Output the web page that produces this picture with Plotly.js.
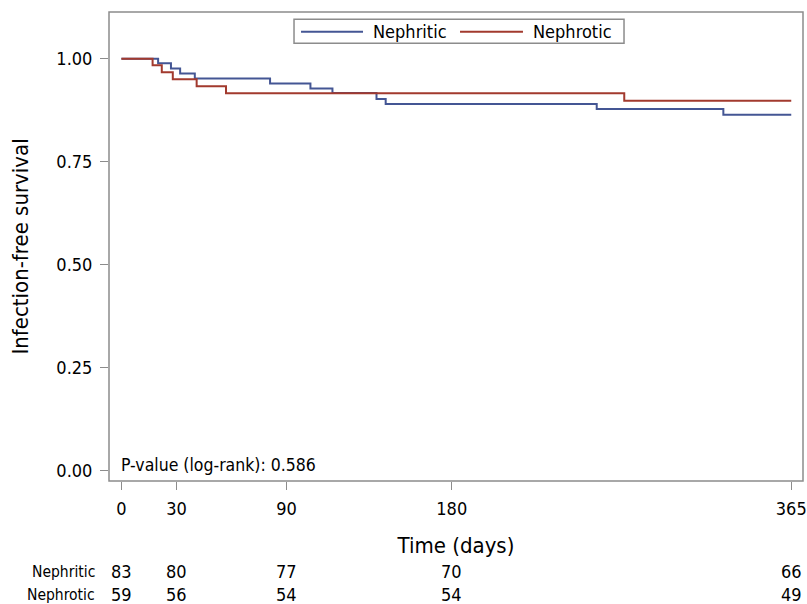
<!DOCTYPE html>
<html>
<head>
<meta charset="utf-8">
<script src="https://cdn.plot.ly/plotly-3.0.1.min.js"></script>
<style>html,body{margin:0;padding:0;background:#fff;}#chart{width:807px;height:604px;}</style>
</head>
<body>
<div id="chart"></div>
<script>
// Kaplan-Meier step data
const nephriticDays = [0, 20, 27, 32, 40, 81, 103, 115, 139, 144, 259, 328, 365];
const nephriticSurv = [1.000, 0.989, 0.976, 0.964, 0.952, 0.940, 0.928, 0.917, 0.902, 0.890, 0.878, 0.864, 0.864];
const nephroticDays = [0, 17, 22, 28, 41, 57, 274, 365];
const nephroticSurv = [1.000, 0.984, 0.967, 0.950, 0.933, 0.916, 0.898, 0.898];

// Number at risk table
const riskTimes = [0, 30, 90, 180, 365];
const nephriticAtRisk = [83, 80, 77, 70, 66];
const nephroticAtRisk = [59, 56, 54, 54, 49];
const groupNames = ["Nephritic", "Nephrotic"];

const yTicks = [0, 0.25, 0.5, 0.75, 1];
const pValueText = "P-value (log-rank): 0.586";

const FONT = "'DejaVu Sans Condensed', 'DejaVu Sans', sans-serif";
const GRAY = "#8c8c8c";
const BLUE = "#445694";
const RED = "#a23a2e";
const colors = [BLUE, RED];

const traces = [
  {x: nephriticDays, y: nephriticSurv, name: groupNames[0], type: "scatter", mode: "lines",
   line: {shape: "hv", color: BLUE, width: 2}},
  {x: nephroticDays, y: nephroticSurv, name: groupNames[1], type: "scatter", mode: "lines",
   line: {shape: "hv", color: RED, width: 2}}
];

const annotations = [
  {text: pValueText, xref: "paper", yref: "paper", x: 0.014, y: 0.009, xanchor: "left", yanchor: "bottom",
   showarrow: false, font: {family: FONT, size: 17.5, color: "#000"}}
];
const rows = [nephriticAtRisk, nephroticAtRisk];
const rowY = [-0.193, -0.243];
rows.forEach((vals, r) => {
  annotations.push({text: groupNames[r], xref: "paper", yref: "paper", x: -0.018, y: rowY[r],
    xanchor: "right", yanchor: "middle", showarrow: false, font: {family: FONT, size: 15.5, color: "#000"}});
  vals.forEach((v, i) => {
    annotations.push({text: String(v), xref: "x", yref: "paper", x: riskTimes[i], y: rowY[r],
      xanchor: "center", yanchor: "middle", showarrow: false, font: {family: FONT, size: 18, color: "#000"}});
  });
});

// Manual legend (box, line samples, labels)
const legendSample = [[0.2767, 0.366], [0.5058, 0.5965]];
const legendTextX = [0.377, 0.6075];
const legendY = 0.958;
const shapes = [
  {type: "rect", xref: "paper", yref: "paper", x0: 0, x1: 1, y0: 0, y1: 1,
   line: {color: GRAY, width: 1.5}, layer: "above"},
  {type: "rect", xref: "paper", yref: "paper", x0: 0.2666, x1: 0.7421, y0: 0.9333, y1: 0.9844,
   line: {color: GRAY, width: 1.5}, fillcolor: "#fff", layer: "above"}
];
groupNames.forEach((g, i) => {
  shapes.push({type: "line", xref: "paper", yref: "paper", x0: legendSample[i][0], x1: legendSample[i][1],
    y0: legendY, y1: legendY, line: {color: colors[i], width: 2}, layer: "above"});
  annotations.push({text: g, xref: "paper", yref: "paper", x: legendTextX[i], y: legendY,
    xanchor: "left", yanchor: "middle", showarrow: false, font: {family: FONT, size: 18, color: "#000"}});
});

const layout = {
  width: 807, height: 604,
  margin: {l: 109, r: 4, t: 12, b: 123},
  paper_bgcolor: "#fff", plot_bgcolor: "#fff",
  font: {family: FONT, color: "#000"},
  showlegend: false,
  xaxis: {range: [-6.76, 371.4], tickvals: riskTimes, ticks: "outside", ticklen: 8, tickwidth: 1.5,
    tickcolor: GRAY, showline: false, zeroline: false, showgrid: false,
    tickfont: {family: FONT, size: 18}, ticklabelstandoff: 3,
    title: {text: "Time (days)", font: {family: FONT, size: 22}, standoff: 20}},
  yaxis: {range: [-0.025, 1.1134], tickvals: yTicks, tickformat: ".2f", ticks: "outside", ticklen: 8,
    tickwidth: 1.5, tickcolor: GRAY, showline: false, zeroline: false, showgrid: false,
    tickfont: {family: FONT, size: 18}, ticklabelstandoff: 4,
    title: {text: "Infection-free survival", font: {family: FONT, size: 22}, standoff: 21}},
  shapes: shapes,
  annotations: annotations
};

Plotly.newPlot("chart", traces, layout, {displayModeBar: false, staticPlot: true});
</script>
</body>
</html>
